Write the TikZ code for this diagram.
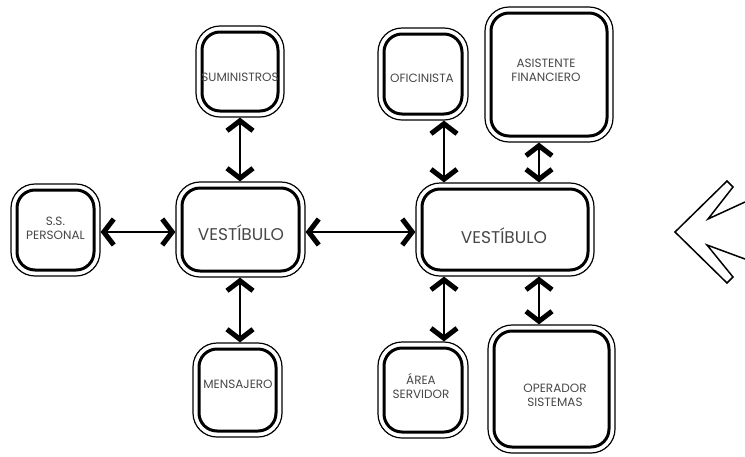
\documentclass[tikz,border=0pt]{standalone}
\usepackage{fontspec}
\setmainfont{Poppins}
\usetikzlibrary{arrows.meta}
\newcommand\dblbox[6]{%
  \node[outerbox, minimum width={#4*1pt}, minimum height={#5*1pt}] (#1) at (#2,#3) {};
  \node[innerbox, minimum width={(#4-12)*1pt}, minimum height={(#5-12)*1pt}] (#1in) at (#2,#3) {};
}
\begin{document}
\begin{tikzpicture}[x=1pt,y=-1pt,
  outerbox/.style={draw, line width=1.2pt, rounded corners=24pt, inner sep=0pt},
  innerbox/.style={draw, line width=3pt, rounded corners=18pt, inner sep=0pt},
  lbl/.style={text=black!72, font=\fontsize{12}{14}\selectfont, align=center, inner sep=0pt},
  biglbl/.style={text=black!72, font=\fontsize{17}{19}\selectfont, inner sep=0pt},
  barb/.tip={Straight Barb[length=10pt,width=26pt,line width=5pt]},
  link/.style={line width=2pt, barb-barb}]
\useasboundingbox (0,0) rectangle (745,456);
\dblbox{ssp}{55.5}{230}{89}{92}{}
\dblbox{vone}{240.5}{229.5}{129}{95}{}
\dblbox{sum}{240}{71.5}{88}{91}{}
\dblbox{men}{237.5}{390}{89}{94}{}
\dblbox{ofi}{423}{74}{90}{92}{}
\dblbox{asi}{549}{74.5}{128}{135}{}
\dblbox{vtwo}{505}{229.5}{178}{93}{}
\dblbox{are}{423}{390}{90}{96}{}
\dblbox{ope}{551.5}{389}{127}{128}{}
\node[lbl] (ssptxt) at (55.5,228) {S.S.\\PERSONAL};
\node[biglbl] (vonetxt) at (241,233) {VESTÍBULO};
\node[lbl] (sumtxt) at (240,77) {SUMINISTROS};
\node[lbl] (mentxt) at (238,384) {MENSAJERO};
\node[lbl] (ofitxt) at (422,78) {OFICINISTA};
\node[lbl] (asitxt) at (546,70) {ASISTENTE\\FINANCIERO};
\node[biglbl] (vtwotxt) at (504,236) {VESTÍBULO};
\node[lbl] (aretxt) at (421,386) {ÁREA\\SERVIDOR};
\node[lbl] (opetxt) at (555,395) {OPERADOR\\SISTEMAS};
\coordinate (xa) at (240,0);
\coordinate (xb) at (444,0);
\coordinate (xc) at (539,0);
\coordinate (yr) at (0,232);
\draw[link] (ssp.east |- yr) -- (vone.west |- yr);
\draw[link] (vone.east |- yr) -- (vtwo.west |- yr);
\draw[link] (sum.south -| xa) -- (vone.north -| xa);
\draw[link] (vone.south -| xa) -- (men.north -| xa);
\draw[link] (ofi.south -| xb) -- (vtwo.north -| xb);
\draw[link] (asi.south -| xc) -- (vtwo.north -| xc);
\draw[link] (vtwo.south -| xb) -- (are.north -| xb);
\draw[link] (vtwo.south -| xc) -- (ope.north -| xc);
\draw[line width=1.5pt, line join=miter]
  (745,202) -- (708,219) -- (733,187) -- (727,181) -- (675,232)
  -- (727,283) -- (733,277) -- (707,245) -- (745,259);
\end{tikzpicture}
\end{document}
